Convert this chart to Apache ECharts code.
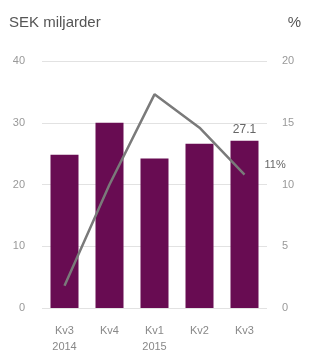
<!DOCTYPE html>
<html>
<head>
<meta charset="utf-8">
<script src="https://cdn.jsdelivr.net/npm/echarts@6/dist/echarts.min.js"></script>
<style>
html, body { margin: 0; padding: 0; background: #fff; }
#chart { width: 310px; height: 356px; }
</style>
</head>
<body>
<div id="chart"></div>
<script>
var categories	= ['Kv3\n2014', 'Kv4', 'Kv1\n2015', 'Kv2', 'Kv3'];
var sales	= [24.8, 30.0, 24.2, 26.6, 27.1];	// SEK miljarder
var margin	= [1.8, 10.0, 17.3, 14.6, 10.8];	// %
var left_ticks	= [0, 10, 20, 30, 40];
var right_ticks	= [0, 5, 10, 15, 20];

var chart = echarts.init(document.getElementById('chart'));
var option = {
    animation: false,
    textStyle: { fontFamily: 'Liberation Sans, Arial, sans-serif' },
    title: [
	{ text: 'SEK miljarder', left: 4, top: 10, textStyle: { fontSize: 15, fontWeight: 'normal', color: '#555' } },
	{ text: '%', right: 4, top: 10, textStyle: { fontSize: 15, fontWeight: 'normal', color: '#555' } }
    ],
    grid: { left: 42, right: 43, top: 61, bottom: 48 },
    xAxis: {
	type: 'category',
	data: categories,
	axisLine: { show: false },
	axisTick: { show: false },
	axisLabel: { color: '#888', fontSize: 11, margin: 15, lineHeight: 16 }
    },
    yAxis: [
	{
	    type: 'value',
	    min: left_ticks[0],
	    max: left_ticks[left_ticks.length - 1],
	    interval: 10,
	    axisLine: { show: false },
	    axisTick: { show: false },
	    axisLabel: { color: '#999', fontSize: 11, margin: 17 },
	    splitLine: { lineStyle: { color: '#e2e2e2', width: 1 } }
	},
	{
	    type: 'value',
	    min: right_ticks[0],
	    max: right_ticks[right_ticks.length - 1],
	    interval: 5,
	    axisLine: { show: false },
	    axisTick: { show: false },
	    axisLabel: { color: '#999', fontSize: 11, margin: 15, align: 'left' },
	    splitLine: { show: false }
	}
    ],
    series: [
	{
	    type: 'bar',
	    data: sales,
	    barWidth: 28,
	    itemStyle: { color: '#680c52' },
	    label: {
		show: true,
		position: 'top',
		color: '#666',
		fontSize: 12,
		formatter: function (p) { return p.dataIndex == sales.length - 1 ? p.value.toFixed(1) : ''; }
	    }
	},
	{
	    type: 'line',
	    yAxisIndex: 1,
	    data: margin,
	    symbol: 'none',
	    lineStyle: { color: '#7a7a7a', width: 2.5 },
	    endLabel: {
		show: true,
		formatter: '11%',
		color: '#666',
		fontSize: 11,
		offset: [12, -10]
	    }
	}
    ]
};
chart.setOption(option);
</script>
</body>
</html>
